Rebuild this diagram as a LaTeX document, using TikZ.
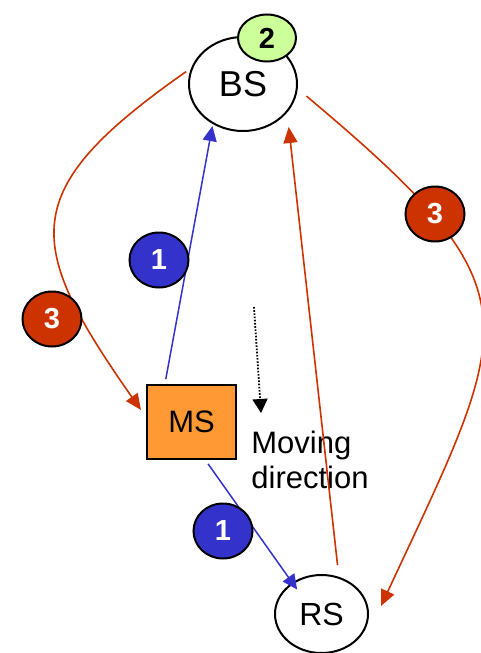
\documentclass[tikz,border=0pt]{standalone}
\usepackage{fontspec}
\setmainfont{Liberation Sans}
\usetikzlibrary{arrows.meta,shapes.geometric}

\definecolor{linkblue}{HTML}{3333CC}
\definecolor{linkred}{HTML}{CC3300}
\definecolor{stepgreen}{HTML}{CCFF99}
\definecolor{msorange}{HTML}{FF9933}

\begin{document}
\begin{tikzpicture}[
    x=0.5pt, y=-0.5pt,
    every node/.style={font=\fontsize{15.5}{17.5}\selectfont},
    station/.style={draw, ellipse, line width=1pt, fill=white, inner sep=0pt},
    mobile/.style={draw, rectangle, line width=1pt, fill=msorange, minimum width=44.5pt, minimum height=37pt},
    badge/.style={draw, ellipse, line width=1pt, inner sep=0pt, minimum width=29.5pt, minimum height=27.5pt, font=\fontsize{14.5}{14.5}\selectfont\bfseries},
    bluelink/.style={-{Triangle[length=7.5pt,width=7pt]}, line width=0.75pt, draw=linkblue},
    redlink/.style={-{Triangle[length=8pt,width=7pt]}, line width=0.8pt, draw=linkred},
    movedir/.style={-{Triangle[length=7pt,width=7.5pt]}, line width=0.9pt, dash pattern=on 0.8pt off 0.8pt}
]
\useasboundingbox (0,0) rectangle (481,653);

% stations
\node[station, minimum width=54pt, minimum height=47pt, font=\fontsize{18}{18}\selectfont] (BS) at (243,84) {BS};
\node[mobile] (MS) at (191.5,422) {MS};
\node[station, minimum width=46.5pt, minimum height=39pt, font=\fontsize{16}{16}\selectfont] (RS) at (321.5,614) {RS};

% moving direction
\coordinate (dirtop) at (254,307);
\coordinate (dirtip) at (261,413);
\draw[movedir] (dirtop) -- (dirtip);
\node[anchor=west, inner sep=0pt, align=left] (movetext) at (251,460) {Moving\\direction};

% links
\draw[bluelink, shorten <=2.5pt, shorten >=1pt] (MS.125) -- (BS.233);
\draw[bluelink, shorten <=2.4pt, shorten >=-4.3pt] (MS.290) -- (RS.133);
\draw[redlink, shorten <=5.9pt, shorten >=7.2pt] (RS.65) -- (BS.327);
\draw[redlink, shorten <=3pt, shorten >=4.4pt] (BS.163) to[out=215, in=125, looseness=1.55] (MS.174);
\draw[redlink, shorten <=5.7pt] (BS.355) to[out=-40, in=65, looseness=1.55] ([xshift=6pt,yshift=4pt]RS.east);

% step numbers
\node[badge, fill=stepgreen, minimum width=29pt, minimum height=23.5pt] (step2) at (267,38) {2};
\node[badge, fill=linkblue, text=white] (step1a) at (159,260) {1};
\node[badge, fill=linkblue, text=white] (step1b) at (223,531) {1};
\node[badge, fill=linkred, text=white] (step3a) at (52,319) {3};
\node[badge, fill=linkred, text=white] (step3b) at (435,214) {3};
\end{tikzpicture}
\end{document}
